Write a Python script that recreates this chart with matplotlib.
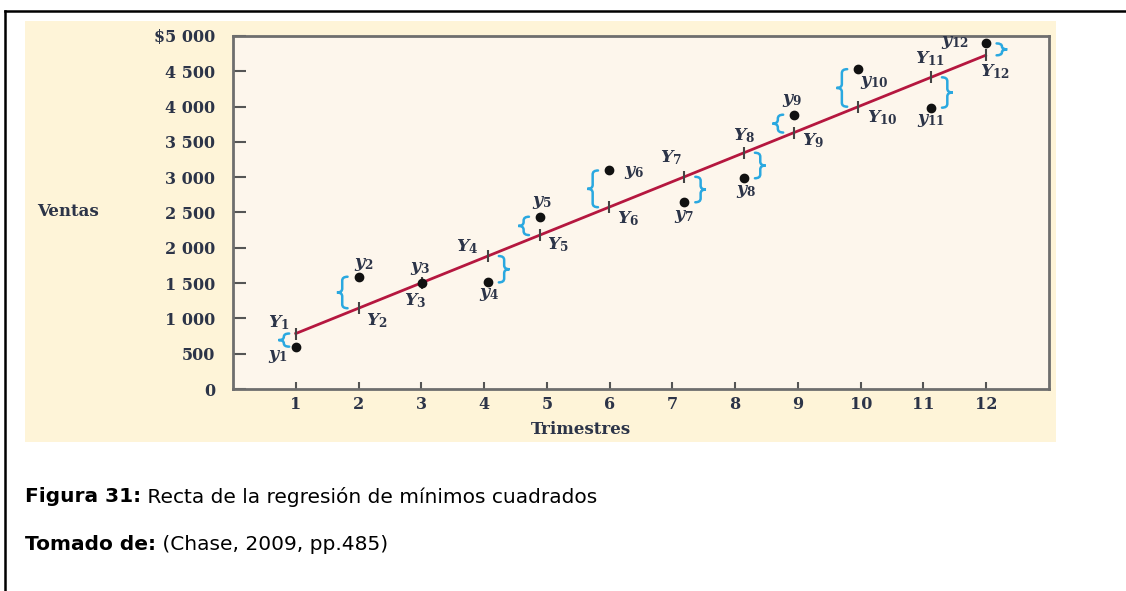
import numpy as np
import matplotlib.pyplot as plt
from matplotlib.path import Path
from matplotlib.patches import PathPatch, Rectangle
from matplotlib.lines import Line2D

# datos
trimestres = [1, 2, 3, 4, 5, 6, 7, 8, 9, 10, 11, 12]
x_dibujo = [1.0, 2.0, 3.01, 4.06, 4.89, 5.99, 7.19, 8.14, 8.94, 9.96, 11.12, 11.99]
ventas = [600, 1590, 1505, 1510, 2440, 3095, 2645, 2985, 3885, 4530, 3985, 4895]
recta_a = 427.0
recta_b = 358.6
y_ticks = [0, 500, 1000, 1500, 2000, 2500, 3000, 3500, 4000, 4500, 5000]
y_etiquetas = ['0', '500', '1 000', '1 500', '2 000', '2 500', '3 000',
               '3 500', '4 000', '4 500', '$5 000']
# -1 llave a la izquierda, 1 a la derecha, 0 sin llave
lado_llave = [-1, -1, 0, 1, -1, -1, 1, 1, -1, -1, 1, 1]

# desplazamientos de las etiquetas (pixeles, y hacia abajo positivo)
off_min = [(-18, 9), (5, -13), (-2, -15), (1, 12), (2, -15), (25, 2),
           (0, 14), (2, 13), (-2, -15), (16, 13), (0, 12), (-31, -1)]
off_may = [(-17, -11), (18, 12), (-7, 18), (-21, -9), (18, 10), (19, 11),
           (-13, -19), (0, -17), (19, 8), (24, 11), (-1, -19), (9, 16)]

plt.rcParams['mathtext.fontset'] = 'custom'
plt.rcParams['mathtext.it'] = 'DejaVu Serif:italic:bold'
plt.rcParams['mathtext.rm'] = 'DejaVu Serif:bold'

W, H = 1126, 591
fig = plt.figure(figsize=(W / 100, H / 100), dpi=100)
fig.patch.set_facecolor('white')

# marco de la pagina
fig.add_artist(Line2D([5 / W, 1], [1 - 11 / H, 1 - 11 / H], color='black', lw=1.8))
fig.add_artist(Line2D([5 / W, 5 / W], [0, 1 - 11 / H], color='black', lw=1.8))
# fondo crema
fig.add_artist(Rectangle((25 / W, 1 - 441.5 / H), 1031 / W, 420.5 / H,
                         facecolor='#fef4d8', edgecolor='none', zorder=-1))

ax = fig.add_axes([233 / W, 1 - 389 / H, 816 / W, 353 / H])
ax.set_facecolor('#fdf6ec')
ax.set_xlim(0, 13)
ax.set_ylim(0, 5000)

col_txt = '#2c3448'
ax.set_yticks(y_ticks)
ax.set_yticklabels(y_etiquetas)
ax.set_xticks(trimestres)
ax.set_xticklabels([str(t) for t in trimestres])
for lab in ax.get_xticklabels() + ax.get_yticklabels():
    lab.set_family('DejaVu Serif')
    lab.set_weight('bold')
    lab.set_fontsize(11.5)
    lab.set_color(col_txt)
ax.tick_params(axis='y', direction='in', length=9.5, width=1.5, color='#555555', pad=13)
ax.tick_params(axis='x', direction='in', length=5, width=1.5, color='#555555', pad=5)
for s in ax.spines.values():
    s.set_color('#6e6e6e')
    s.set_linewidth(2)

# recta de regresion
xs = np.array(x_dibujo)
y_est = recta_a + recta_b * xs
ax.plot([xs[0], xs[-1]], [y_est[0], y_est[-1]], color='#b5173f', lw=2, zorder=3)
ax.plot(xs, y_est, ls='none', marker='|', ms=8, mew=1.5, color='#444444', zorder=4)
ax.plot(xs, ventas, ls='none', marker='o', ms=6, color='#111111', zorder=5)


def llave(ax, x, ya, yb, lado, h=0.085):
    y0, y1 = min(ya, yb), max(ya, yb)
    ym = (y0 + y1) / 2
    r = min((y1 - y0) / 4, 55)
    d = h * lado
    verts = [(x - d, y1), (x, y1), (x, y1 - r), (x, ym + r), (x, ym), (x + d, ym),
             (x, ym), (x, ym - r), (x, y0 + r), (x, y0), (x - d, y0)]
    codes = [Path.MOVETO, Path.CURVE3, Path.CURVE3, Path.LINETO, Path.CURVE3, Path.CURVE3,
             Path.CURVE3, Path.CURVE3, Path.LINETO, Path.CURVE3, Path.CURVE3]
    ax.add_patch(PathPatch(Path(verts, codes), fill=False, edgecolor='#2aa8e0',
                           lw=1.8, capstyle='round', zorder=2))


for i in range(len(trimestres)):
    if lado_llave[i] != 0:
        sep = 0.19 if i == 0 else 0.26
        llave(ax, xs[i] + lado_llave[i] * sep, ventas[i], y_est[i], lado_llave[i])
    n = trimestres[i]
    dx, dy = off_min[i]
    ax.annotate('$y_{%d}$' % n, (xs[i], ventas[i]), xytext=(dx, -dy),
                textcoords='offset pixels', ha='center', va='center',
                fontsize=12.5, color=col_txt, zorder=6)
    dx, dy = off_may[i]
    ax.annotate('$Y_{%d}$' % n, (xs[i], y_est[i]), xytext=(dx, -dy),
                textcoords='offset pixels', ha='center', va='center',
                fontsize=12.5, color=col_txt, zorder=6)

fig.text(68 / W, 1 - 212 / H, 'Ventas', family='DejaVu Serif', weight='bold',
         fontsize=12, color=col_txt, ha='center', va='center')
fig.text(581 / W, 1 - 430 / H, 'Trimestres', family='DejaVu Serif', weight='bold',
         fontsize=12, color=col_txt, ha='center', va='center')

# pie de figura
fig.canvas.draw()
r = fig.canvas.get_renderer()
for yy, neg, resto in [(497, 'Figura 31:', ' Recta de la regresión de mínimos cuadrados'),
                       (544, 'Tomado de:', ' (Chase, 2009, pp.485)')]:
    t = fig.text(25 / W, 1 - yy / H, neg, family='DejaVu Sans', weight='bold',
                 fontsize=14.5, va='center')
    bb = t.get_window_extent(r)
    fig.text(bb.x1 / W, 1 - yy / H, resto, family='DejaVu Sans',
             fontsize=14.5, va='center')

fig.savefig('out.png', dpi=100)
